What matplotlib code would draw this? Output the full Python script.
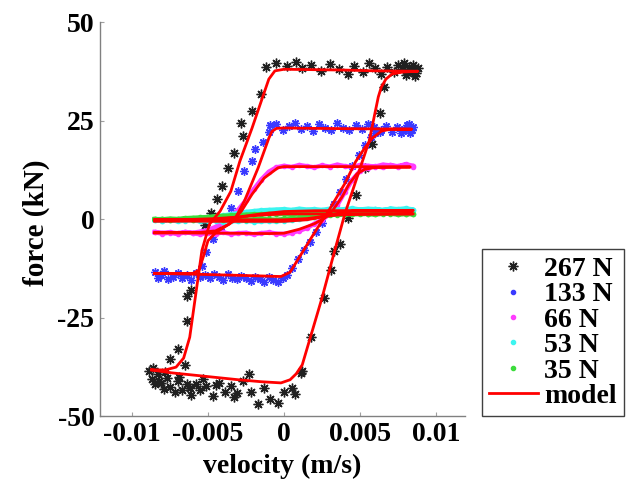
import matplotlib
matplotlib.use("Agg")
import matplotlib.pyplot as plt
from matplotlib.lines import Line2D

plt.rcParams['font.family'] = ['Liberation Serif', 'DejaVu Serif']
plt.rcParams['font.weight'] = 'bold'

# ---------------- data ----------------
labels = ['267 N', '133 N', '66 N', '53 N', '35 N', 'model']
colors = ['#202020', '#3a3aff', '#ff3cff', '#3cf5f0', '#3cdc3c', '#ff0000']
x_ticks = [-0.01, -0.005, 0, 0.005, 0.01]
x_tick_labels = ['-0.01', '-0.005', '0', '0.005', '0.01']
y_ticks = [-50, -25, 0, 25, 50]
y_tick_labels = ['-50', '-25', '0', '25', '50']

# 267 N measured data (velocity m/s, force kN)
d267_v = [-0.0012, -0.0005, 0.0002, 0.0008, 0.0012, 0.0018, 0.0024, 0.0030, 0.0036, 0.0042,
          0.0046, 0.0052, 0.0056, 0.0060, 0.0064, 0.0068, 0.0072, 0.0075, 0.0078, 0.0080,
          0.0082, 0.0084, 0.0085, 0.0086, 0.0087, 0.0088, 0.0083, 0.0079, 0.0081, 0.0086,
          -0.0015, -0.0021, -0.0028, -0.0027, -0.0033, -0.0037, -0.0041, -0.0044, -0.0048, -0.0052,
          -0.0061, -0.0064, -0.0064, -0.0070, -0.0075, -0.0065,
          -0.0089, -0.0087, -0.0085, -0.0083, -0.0081, -0.0079, -0.0077, -0.0075, -0.0072, -0.0070,
          -0.0067, -0.0064, -0.0061, -0.0058, -0.0055, -0.0051, -0.0047, -0.0043, -0.0039, -0.0035,
          -0.0031, -0.0027, -0.0023, -0.0022, -0.0017, -0.0013, -0.0009, -0.0004, 0.0000, 0.0005,
          0.0007, 0.0011, -0.0086, -0.0082, -0.0078, -0.0069, -0.0062, -0.0053, -0.0045, -0.0033,
          0.0012, 0.0018, 0.0026, 0.0031, 0.0033, 0.0037, 0.0042, 0.0047, 0.0053, 0.0058, 0.0063, 0.0066]
d267_f = [38.5, 39.5, 38.8, 39.8, 38.2, 39.0, 37.6, 39.4, 38.1, 36.8,
          38.9, 37.2, 39.6, 38.3, 36.9, 38.7, 37.4, 39.1, 38.0, 36.6,
          38.6, 37.3, 39.0, 38.1, 37.0, 38.4, 37.8, 39.5, 37.5, 36.2,
          31.7, 27.4, 24.4, 21.0, 16.8, 13.0, 8.4, 5.0, 1.5, -1.5,
          -18.0, -19.5, -26.0, -33.0, -35.5, -37.0,
          -38.6, -40.5, -42.0, -39.4, -41.5, -43.2, -40.3, -42.6, -44.0, -41.2,
          -43.5, -42.0, -44.6, -41.8, -43.4, -42.3, -44.8, -41.5, -43.9, -42.4,
          -44.2, -41.0, -39.3, -44.0, -47.0, -42.8, -45.6, -46.7, -43.8, -43.0,
          -44.4, -39.0, -37.8, -41.0, -38.9, -40.2, -42.9, -40.6, -42.1, -45.3,
          -38.6, -30.0, -20.0, -13.0, -8.0, -6.3, 0.3, 6.0, 13.0, 19.0, 27.0, 33.5]

# 133 N measured data
d133_v = [-0.0009, -0.0005, -0.0001, 0.0003, 0.0007, 0.0011, 0.0015, 0.0019, 0.0023, 0.0027,
          0.0031, 0.0035, 0.0039, 0.0043, 0.0047, 0.0051, 0.0055, 0.0059, 0.0063, 0.0067,
          0.0071, 0.0074, 0.0077, 0.0079, 0.0081, 0.0083, 0.0084, 0.0085, 0.0082, 0.0078,
          -0.0010, -0.0014, -0.0019, -0.0021, -0.0026, -0.0030, -0.0035, -0.0038, -0.0042, -0.0047,
          -0.0051, -0.0054,
          -0.0085, -0.0083, -0.0081, -0.0079, -0.0076, -0.0073, -0.0070, -0.0067, -0.0064, -0.0061,
          -0.0058, -0.0055, -0.0052, -0.0049, -0.0046, -0.0043, -0.0040, -0.0037, -0.0034, -0.0031,
          -0.0028, -0.0025, -0.0022, -0.0019, -0.0016, -0.0013, -0.0010, -0.0007, -0.0004, -0.0001,
          0.0002,
          0.0005, 0.0009, 0.0013, 0.0017, 0.0021, 0.0025, 0.0029, 0.0033, 0.0037, 0.0041,
          0.0045, 0.0049, 0.0053, 0.0057, 0.0060, 0.0064]
d133_f = [23.8, 24.2, 22.6, 23.5, 24.4, 22.9, 23.7, 22.4, 24.1, 23.2,
          22.7, 24.3, 23.0, 22.5, 23.9, 22.8, 24.0, 23.3, 22.1, 23.6,
          22.2, 23.4, 21.8, 22.9, 23.8, 21.9, 22.6, 23.3, 24.0, 22.3,
          22.0, 19.5, 17.8, 14.7, 12.2, 7.0, 2.8, 0.5, -2.5, -5.0,
          -8.5, -12.0,
          -13.5, -15.0, -14.2, -13.1, -15.3, -14.6, -13.8, -14.9, -14.1, -15.4,
          -13.6, -14.8, -14.3, -15.1, -13.9, -14.7, -15.6, -14.0, -14.9, -15.3,
          -14.4, -15.0, -15.7, -14.6, -15.2, -16.0, -14.8, -15.5, -16.1, -15.0,
          -14.2,
          -12.5, -10.2, -7.8, -5.9, -3.2, -1.0, 1.5, 3.8, 6.9, 10.1,
          13.4, 16.2, 18.7, 20.9, 21.8, 22.6]

# velocity samples shared by the 66 N, 53 N and 35 N measurements
v_grid = [-0.0085, -0.0080, -0.0075, -0.0070, -0.0065, -0.0060, -0.0055, -0.0050, -0.0045, -0.0040,
          -0.0035, -0.0030, -0.0025, -0.0020, -0.0015, -0.0010, -0.0005, 0.0000, 0.0005, 0.0010,
          0.0015, 0.0020, 0.0025, 0.0030, 0.0035, 0.0040, 0.0045, 0.0050, 0.0055, 0.0060,
          0.0065, 0.0070, 0.0075, 0.0080, 0.0085]

d66_lower = [-3.4, -3.7, -3.5, -3.8, -3.4, -3.6, -3.9, -3.5, -3.7, -3.4,
             -3.8, -3.6, -3.5, -3.9, -3.6, -3.4, -3.7, -3.8, -3.5, -3.0,
             -2.3, -1.2, -0.2, 1.2, 3.5, 6.8, 10.0, 12.2, 13.0, 13.4,
             13.1, 13.6, 13.3, 13.8, 13.2]
d66_upper = [-3.3, -3.5, -3.4, -3.6, -3.3, -3.5, -3.2, -2.8, -2.0, -0.9,
             0.6, 2.4, 4.8, 7.5, 10.0, 12.0, 13.1, 13.5, 13.2, 13.7,
             13.4, 13.1, 13.6, 13.3, 13.8, 13.4, 13.2, 13.7, 13.5, 13.3,
             13.8, 13.6, 13.4, 13.9, 13.5]

d53_lower = [-0.3, -0.5, -0.2, -0.6, -0.4, -0.3, -0.6, -0.5, -0.4, -0.7,
             -0.5, -0.6, -0.4, -0.7, -0.6, -0.5, -0.6, -0.4, -0.3, -0.1,
             0.2, 0.5, 0.9, 1.3, 1.7, 2.0, 2.2, 2.4, 2.3, 2.5,
             2.2, 2.6, 2.4, 2.5, 2.3]
d53_upper = [-0.3, -0.4, -0.2, -0.3, -0.1, 0.0, 0.2, 0.4, 0.6, 0.9,
             1.2, 1.5, 1.8, 2.0, 2.2, 2.3, 2.4, 2.5, 2.3, 2.6,
             2.4, 2.5, 2.3, 2.6, 2.4, 2.5, 2.7, 2.4, 2.6, 2.5,
             2.3, 2.6, 2.5, 2.7, 2.4]

d35_lower = [-0.1, 0.0, -0.2, -0.1, 0.0, -0.2, -0.1, 0.0, -0.1, -0.2,
             0.0, -0.1, -0.2, -0.1, 0.0, -0.1, -0.2, 0.0, 0.1, 0.2,
             0.4, 0.6, 0.8, 1.0, 1.1, 1.2, 1.3, 1.2, 1.3, 1.2,
             1.4, 1.3, 1.2, 1.3, 1.2]
d35_upper = [0.0, -0.1, 0.1, 0.0, 0.2, 0.3, 0.4, 0.5, 0.7, 0.8,
             0.9, 1.0, 1.1, 1.2, 1.2, 1.3, 1.2, 1.3, 1.2, 1.4,
             1.3, 1.2, 1.3, 1.4, 1.2, 1.3, 1.2, 1.4, 1.3, 1.2,
             1.3, 1.4, 1.2, 1.3, 1.3]

# model loops (closed paths: lower branch left->right, upper branch right->left)
m267_v = [-0.0087, -0.0075, -0.0060, -0.0045, -0.0030, -0.0015, -0.0002, 0.0004, 0.0008, 0.0012,
          0.0025, 0.0033, 0.0040, 0.0056, 0.0062, 0.0064, 0.0067, 0.0071, 0.0078, 0.0088,
          0.0060, 0.0040, 0.0020, 0.0000, -0.0006, -0.0010, -0.0014, -0.0021, -0.0029, -0.0035,
          -0.0042, -0.0049, -0.0054, -0.0058, -0.0062, -0.0066, -0.0071, -0.0078, -0.0087]
m267_f = [-38.3, -39.0, -39.6, -40.2, -40.8, -41.3, -41.6, -40.8, -39.3, -37.0,
          -20.0, -8.5, 1.3, 19.8, 31.0, 33.5, 35.5, 36.8, 37.3, 37.5,
          37.6, 37.8, 37.9, 38.0, 37.6, 35.5, 31.0, 23.1, 14.7, 7.0,
          2.0, -1.3, -8.0, -19.0, -30.0, -35.3, -37.6, -38.3, -38.3]

m133_v = [-0.0085, -0.0060, -0.0040, -0.0020, -0.0002, 0.0004, 0.0008, 0.0012, 0.0020, 0.0030,
          0.0040, 0.0047, 0.0053, 0.0058, 0.0064, 0.0070, 0.0084,
          0.0050, 0.0020, 0.0000, -0.0005, -0.0008, -0.0010, -0.0017, -0.0026, -0.0033,
          -0.0045, -0.0050, -0.0053, -0.0056, -0.0060, -0.0085]
m133_f = [-13.8, -14.0, -14.2, -14.4, -14.6, -13.5, -11.0, -8.5, -3.5, 2.5,
          9.0, 14.5, 18.0, 20.5, 22.3, 22.8, 22.8,
          22.9, 23.0, 23.1, 23.0, 22.2, 20.5, 13.0, 4.6, -0.5,
          -3.5, -5.5, -9.5, -13.0, -13.8, -13.8]

m66_v = [-0.0085, -0.0040, -0.0010, 0.0000, 0.0010, 0.0020, 0.0027, 0.0032, 0.0038, 0.0043,
         0.0048, 0.0053, 0.0060, 0.0083,
         0.0040, 0.0000, -0.0004, -0.0013, -0.0021, -0.0028, -0.0036, -0.0045, -0.0055, -0.0085]
m66_f = [-3.5, -3.6, -3.7, -3.6, -2.6, -1.2, 0.3, 2.2, 5.5, 9.0,
         11.5, 12.6, 13.1, 13.2,
         13.3, 13.3, 13.0, 10.4, 6.3, 2.0, -1.3, -3.0, -3.4, -3.5]

m53_v = [-0.0085, -0.0040, 0.0000, 0.0015, 0.0025, 0.0035, 0.0045, 0.0085,
         0.0020, 0.0000, -0.0015, -0.0030, -0.0045, -0.0060, -0.0085]
m53_f = [-0.5, -0.6, -0.6, -0.2, 0.5, 1.4, 2.0, 2.2,
         2.1, 1.9, 1.3, 0.5, -0.2, -0.4, -0.5]

m35_v = [-0.0085, 0.0000, 0.0015, 0.0025, 0.0035, 0.0045, 0.0085,
         0.0000, -0.0015, -0.0030, -0.0045, -0.0060, -0.0085]
m35_f = [-0.2, -0.2, 0.1, 0.6, 1.0, 1.2, 1.3,
         1.3, 1.0, 0.5, 0.1, -0.1, -0.2]

# ---------------- figure ----------------
fig = plt.figure(figsize=(6.44, 4.82), dpi=100)
ax = fig.add_axes([100 / 644, 1 - 416 / 482, 365 / 644, 394 / 482])

asterisk = (8, 2, 0)
ax.plot(d267_v, d267_f, ls='none', marker=asterisk, ms=7, mew=1.0, color=colors[0])
ax.plot(d133_v, d133_f, ls='none', marker=asterisk, ms=6, mew=1.0, color=colors[1])

loop_v = v_grid + v_grid[::-1]
for lower, upper, c in [(d66_lower, d66_upper, colors[2]),
                        (d53_lower, d53_upper, colors[3]),
                        (d35_lower, d35_upper, colors[4])]:
    ax.plot(loop_v, lower + upper[::-1], ls='-', lw=3.2, marker='.', ms=6, color=c)

for mv, mf in [(m267_v, m267_f), (m133_v, m133_f), (m66_v, m66_f), (m53_v, m53_f), (m35_v, m35_f)]:
    ax.plot(mv, mf, color=colors[5], lw=2.0)

ax.set_xlim(-0.0121, 0.0119)
ax.set_ylim(-50, 50)
ax.set_xticks(x_ticks)
ax.set_xticklabels(x_tick_labels)
ax.set_yticks(y_ticks)
ax.set_yticklabels(y_tick_labels)
for s in ['top', 'right']:
    ax.spines[s].set_visible(False)
for s in ['left', 'bottom']:
    ax.spines[s].set_color('#808080')
    ax.spines[s].set_linewidth(1.0)
ax.tick_params(direction='in', length=3, color='#a0a0a0', labelsize=20, pad=4)
for t in ax.get_xticklabels() + ax.get_yticklabels():
    t.set_fontweight('bold')
ax.set_xlabel('velocity (m/s)', fontsize=20, fontweight='bold', labelpad=5)
ax.set_ylabel('force (kN)', fontsize=21, fontweight='bold')
ax.yaxis.set_label_coords(-0.137, 0.49)

handles = [Line2D([], [], ls='none', marker=asterisk, ms=7, mew=1.0, color=colors[0]),
           Line2D([], [], ls='none', marker='.', ms=6, color=colors[1]),
           Line2D([], [], ls='none', marker='.', ms=6, color=colors[2]),
           Line2D([], [], ls='none', marker='.', ms=6, color=colors[3]),
           Line2D([], [], ls='none', marker='.', ms=6, color=colors[4]),
           Line2D([], [], color=colors[5], lw=2.0)]
leg = fig.legend(handles, labels, loc='lower left', bbox_to_anchor=(482 / 644, 1 - 416 / 482),
                 frameon=True, fancybox=False, framealpha=1, edgecolor='#404040',
                 prop={'family': 'Liberation Serif', 'weight': 'bold', 'size': 20},
                 handlelength=1.75, handletextpad=0.25, labelspacing=0.0, borderpad=0.25,
                 borderaxespad=0)
leg.get_frame().set_linewidth(1.0)

fig.savefig('out.png', dpi=100)
